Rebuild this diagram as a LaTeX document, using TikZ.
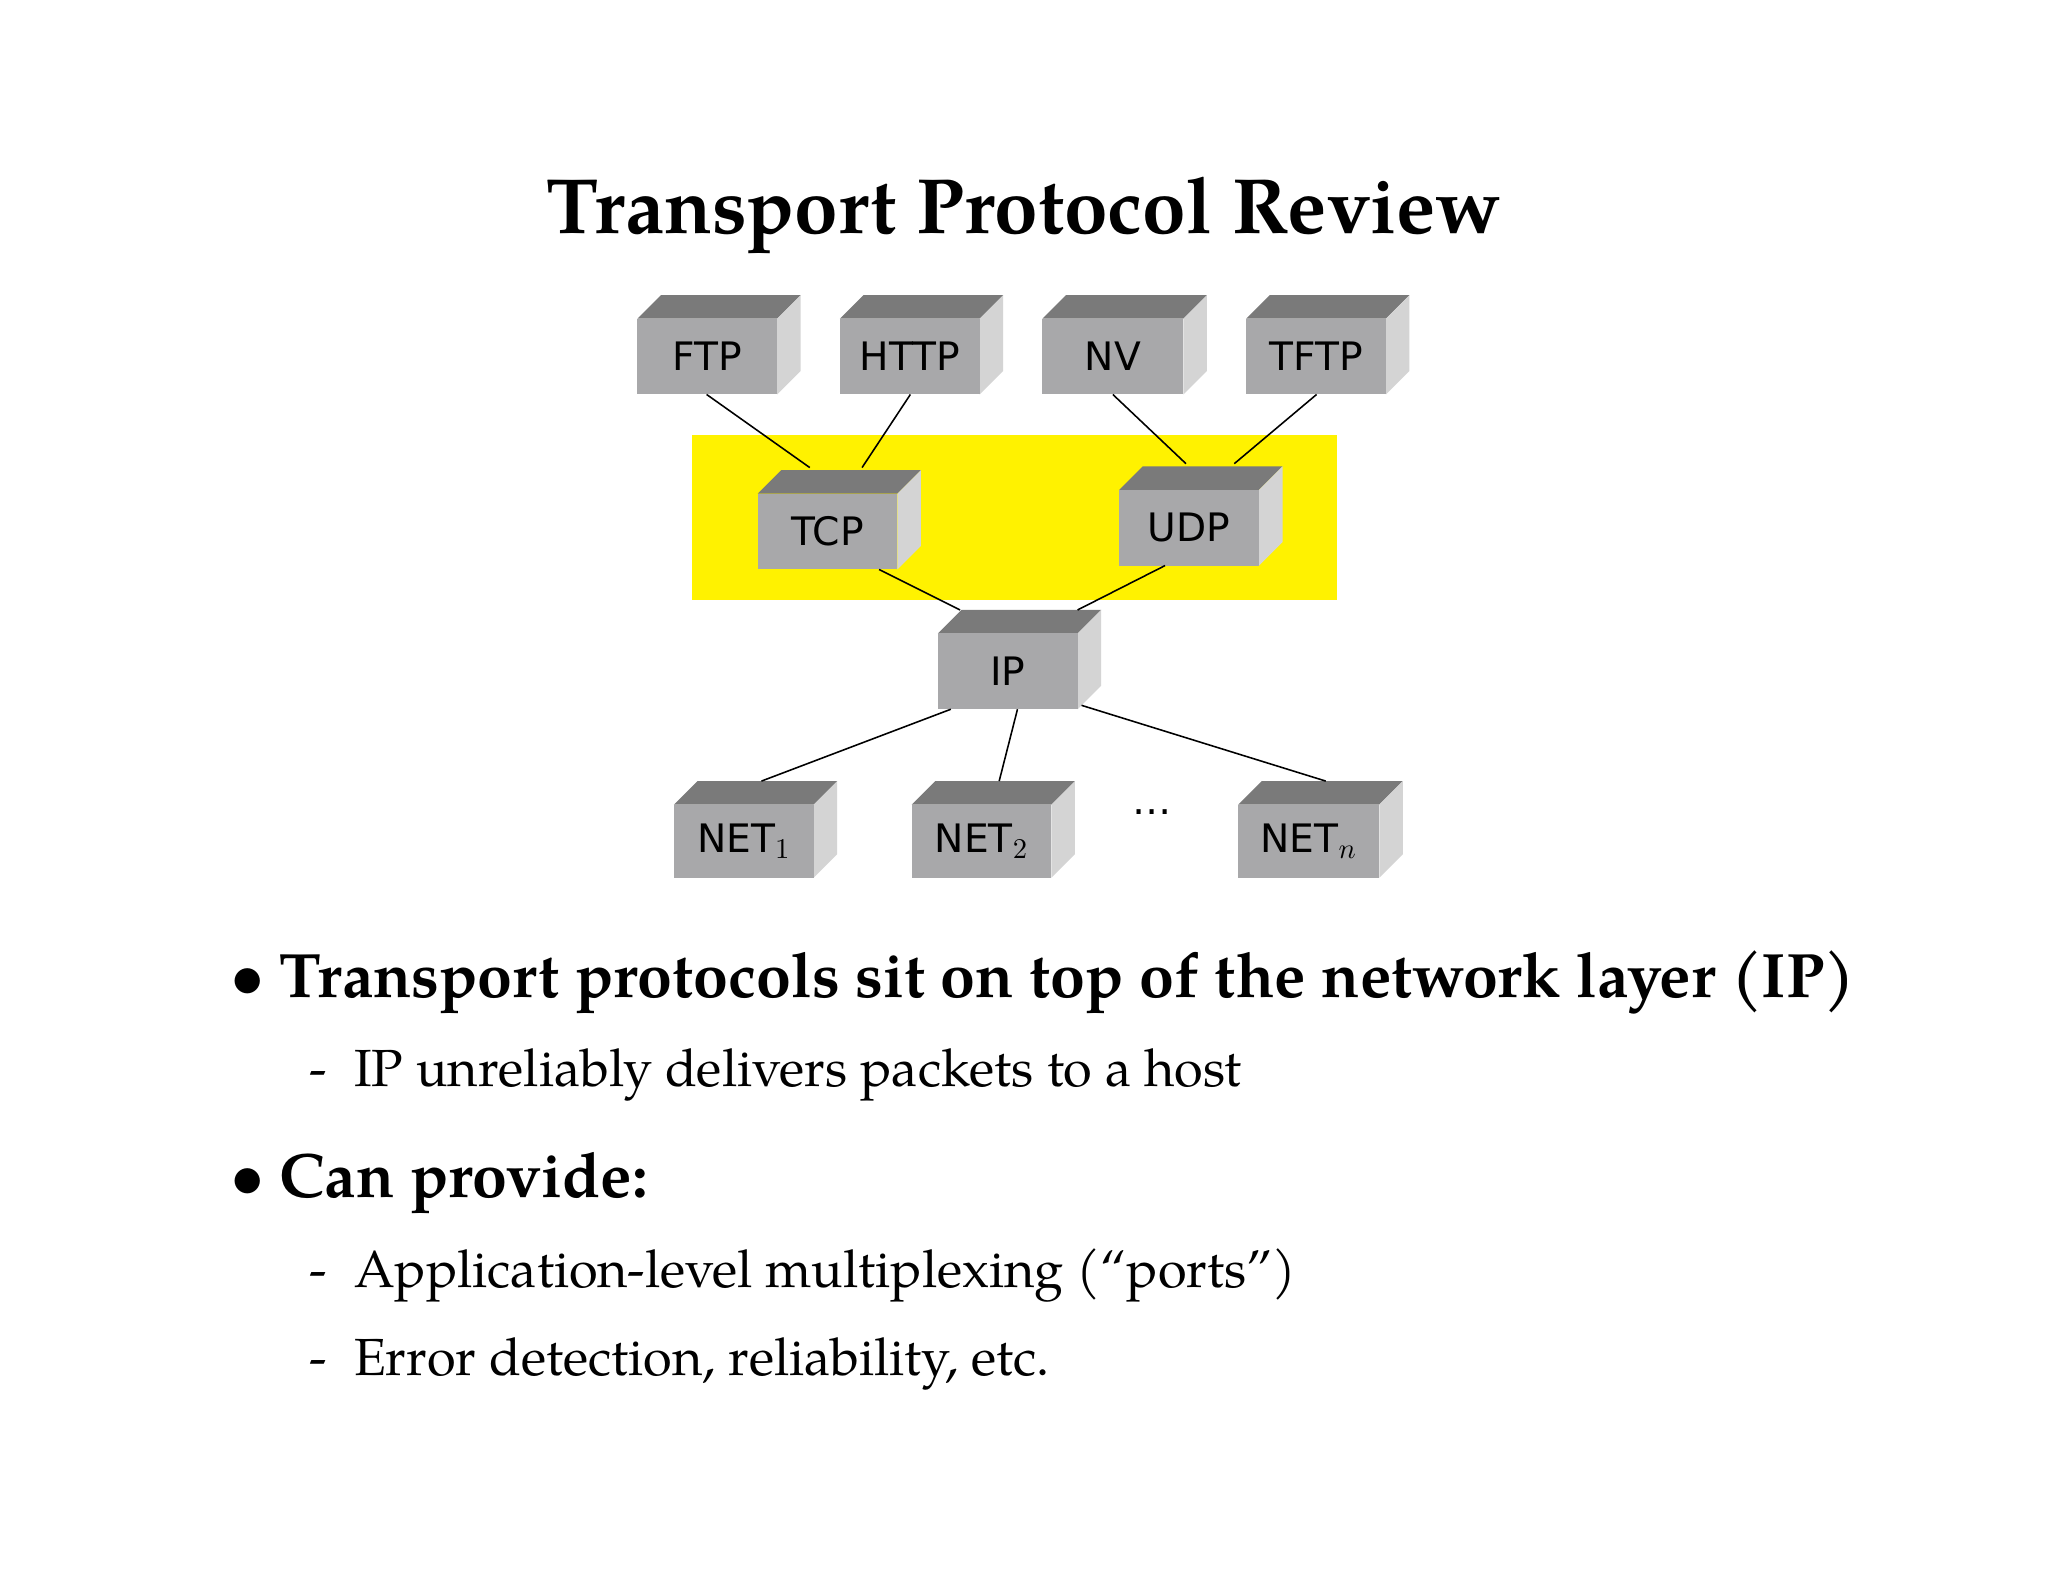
\documentclass[tikz,border=0pt]{standalone}
\usepackage{fontspec}
\setmainfont{TeX Gyre Pagella}
\newfontfamily\boxfont{DejaVu Sans}
\definecolor{boxtop}{RGB}{122,122,122}
\definecolor{boxside}{RGB}{212,212,212}
\definecolor{boxfront}{RGB}{168,168,170}
\begin{document}
\begin{tikzpicture}[x=0.5pt,y=-0.5pt,
  lbl/.style={font=\boxfont\fontsize{15}{18}\selectfont},
  conn/.style={draw=black,line width=0.6pt}]
\useasboundingbox (0,0) rectangle (1568,1211);
\fill[white] (0,0) rectangle (1568,1211);
\fill[yellow] (530,333) rectangle (1024,459);
\newcommand{\pbox}[6]{% name,x1,y1,x2,y2,label
  \fill[boxtop] (#2,#3) -- (#2+18,#3-18) -- (#4+18,#3-18) -- (#4,#3) -- cycle;
  \fill[boxside] (#4,#3) -- (#4+18,#3-18) -- (#4+18,#5-18) -- (#4,#5) -- cycle;
  \fill[boxfront] (#2,#3) rectangle (#4,#5);
  \node[lbl] (#1) at ({(#2+#4)/2},{(#3+#5)/2}) {#6};}
\pbox{ftp}{488}{244}{595}{302}{FTP}
\pbox{http}{643}{244}{750}{302}{HTTP}
\pbox{nv}{798}{244}{906}{302}{NV}
\pbox{tftp}{954}{244}{1061}{302}{TFTP}
\pbox{tcp}{580}{378}{687}{436}{TCP}
\pbox{udp}{857}{375}{964}{433}{UDP}
\pbox{ip}{718}{485}{825}{543}{IP}
\pbox{neta}{516}{616}{623}{672}{NET$_1$}
\pbox{netb}{698}{616}{805}{672}{NET$_2$}
\pbox{netn}{948}{616}{1056}{672}{NET$_n$}
\coordinate (a1) at (541,302); \coordinate (b1) at (620,358);
\coordinate (a2) at (697,302); \coordinate (b2) at (660,358);
\coordinate (a3) at (852,302); \coordinate (b3) at (908,355);
\coordinate (a4) at (1008,302); \coordinate (b4) at (945,355);
\coordinate (a5) at (673,436); \coordinate (b5) at (735,467);
\coordinate (a6) at (892,433); \coordinate (b6) at (825,467);
\coordinate (a7) at (728,543); \coordinate (b7) at (583,598);
\coordinate (a8) at (779,543); \coordinate (b8) at (765,598);
\coordinate (a9) at (828,540); \coordinate (b9) at (1015,598);
\foreach \i in {1,...,9} \draw[conn] (a\i) -- (b\i);
\node[lbl] (dots) at (882,622) {\dots};
\node[font=\fontsize{30}{36}\selectfont\bfseries] (title) at (784,165) {Transport Protocol Review};
\begin{scope}[every node/.style={anchor=base west}]
\node[font=\fontsize{24}{28}\selectfont\bfseries] (b1t) at (170,764) {$\bullet$};
\node[font=\fontsize{24}{28}\selectfont\bfseries] (b1x) at (207,764) {Transport protocols sit on top of the network layer (IP)};
\node[font=\fontsize{20}{24}\selectfont] (s1d) at (230,832) {-};
\node[font=\fontsize{20}{24}\selectfont] (s1x) at (264,832) {IP unreliably delivers packets to a host};
\node[font=\fontsize{24}{28}\selectfont\bfseries] (b2t) at (170,917) {$\bullet$};
\node[font=\fontsize{24}{28}\selectfont\bfseries] (b2x) at (207,917) {Can provide:};
\node[font=\fontsize{20}{24}\selectfont] (s2d) at (230,986) {-};
\node[font=\fontsize{20}{24}\selectfont] (s2x) at (264,986) {Application-level multiplexing (“ports”)};
\node[font=\fontsize{20}{24}\selectfont] (s3d) at (230,1053) {-};
\node[font=\fontsize{20}{24}\selectfont] (s3x) at (264,1053) {Error detection, reliability, etc.};
\end{scope}
\end{tikzpicture}
\end{document}
